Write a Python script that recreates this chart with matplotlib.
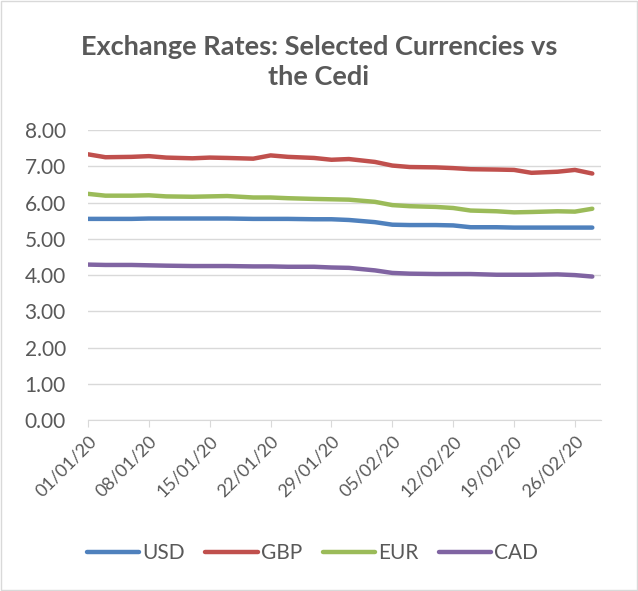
import numpy as np
import pandas as pd
import matplotlib
matplotlib.use("Agg")
import matplotlib.pyplot as plt

plt.rcParams['font.family'] = ['Lato', 'DejaVu Sans']

days = [0, 2, 5, 7, 9, 12, 14, 16, 19, 21, 23, 26, 28, 30,
        33, 35, 37, 40, 42, 44, 47, 49, 51, 54, 56, 58]
dates = pd.Timestamp("2020-01-01") + pd.to_timedelta(days, unit="D")

usd = [5.55, 5.55, 5.55, 5.56, 5.56, 5.56, 5.56, 5.56, 5.55, 5.55, 5.55, 5.54, 5.54, 5.52,
       5.46, 5.39, 5.38, 5.38, 5.37, 5.32, 5.32, 5.31, 5.31, 5.31, 5.31, 5.31]
gbp = [7.33, 7.25, 7.26, 7.28, 7.24, 7.22, 7.24, 7.23, 7.21, 7.30, 7.26, 7.23, 7.18, 7.20,
       7.12, 7.02, 6.98, 6.97, 6.95, 6.92, 6.91, 6.90, 6.82, 6.85, 6.90, 6.80]
eur = [6.24, 6.19, 6.19, 6.20, 6.17, 6.16, 6.17, 6.18, 6.14, 6.14, 6.12, 6.10, 6.09, 6.08,
       6.02, 5.93, 5.90, 5.88, 5.85, 5.78, 5.76, 5.73, 5.74, 5.76, 5.75, 5.83]
cad = [4.29, 4.28, 4.28, 4.27, 4.26, 4.25, 4.25, 4.25, 4.24, 4.24, 4.23, 4.23, 4.21, 4.20,
       4.13, 4.06, 4.04, 4.03, 4.03, 4.03, 4.01, 4.01, 4.01, 4.02, 4.00, 3.96]

series = [("USD", usd, "#4f81bd"), ("GBP", gbp, "#c0504d"),
          ("EUR", eur, "#9bbb59"), ("CAD", cad, "#8064a2")]

fig = plt.figure(figsize=(6.38, 5.91), dpi=100)
ax = fig.add_axes([0.138, 0.289, 0.804, 0.491])

for name, vals, col in series:
    ax.plot(dates, vals, color=col, lw=3.2, label=name, solid_capstyle="round")

ax.set_ylim(0, 8)
ax.set_yticks(np.arange(0, 9, 1))
ax.yaxis.set_major_formatter(plt.FuncFormatter(lambda v, p: f"{v:.2f}"))
ax.set_xlim(pd.Timestamp("2020-01-01"), pd.Timestamp("2020-02-29"))
ticks = pd.date_range("2020-01-01", "2020-02-26", freq="7D")
ax.set_xticks(ticks)
ax.set_xticklabels([t.strftime("%d/%m/%y") for t in ticks], rotation=45,
                   ha="right", rotation_mode="anchor")

ax.grid(axis="y", color="#d9d9d9", lw=1)
ax.set_axisbelow(True)
for s in ["top", "right", "left"]:
    ax.spines[s].set_visible(False)
ax.spines["bottom"].set_color("#d9d9d9")
ax.tick_params(axis="y", length=0, labelsize=15, labelcolor="#595959", pad=16)
ax.tick_params(axis="x", length=5, color="#d9d9d9", labelsize=13, labelcolor="#595959", pad=4)

fig.text(0.5, 0.895, "Exchange Rates: Selected Currencies vs\nthe Cedi", ha="center", va="center",
         fontsize=19.5, fontweight="bold", color="#595959", linespacing=1.3)

fig.legend(loc="center", bbox_to_anchor=(0.49, 0.064), ncol=4, frameon=False,
           fontsize=15, handlelength=2.5, handletextpad=0.15, columnspacing=1.0,
           labelcolor="#595959")

fig.patches.append(plt.Rectangle((0.002, 0.002), 0.996, 0.996, transform=fig.transFigure,
                                 fill=False, edgecolor="#d9d9d9", lw=1))

fig.savefig("out.png", dpi=100)
